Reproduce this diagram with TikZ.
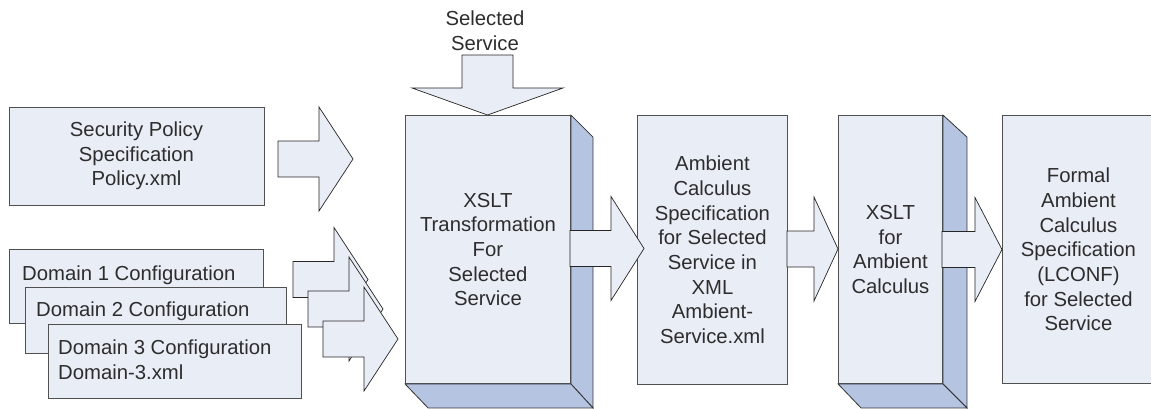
\documentclass[tikz,border=0pt]{standalone}
\usepackage{fontspec}
\setmainfont{Liberation Sans}
\definecolor{boxfill}{RGB}{233,237,246}
\definecolor{sidefill}{RGB}{181,196,225}
\definecolor{boxline}{RGB}{80,80,80}
\definecolor{txt}{RGB}{45,45,45}
\tikzset{
  box/.style={draw=boxline, line width=0.9pt, fill=boxfill, inner sep=0pt, text=txt,
    font=\fontsize{20.3}{24.7}\selectfont, align=center},
  side/.style={draw=black!80, line width=0.8pt, fill=sidefill},
  barrow/.style={draw=black!85, line width=0.7pt, fill=boxfill, line join=miter},
  label/.style={inner sep=0pt, text=txt, font=\fontsize{20.3}{24.7}\selectfont, anchor=base west}
}
% #1 shaft left x, #2 centre y, #3 head base x, #4 tip x
\newcommand{\blockarrow}[4]{%
  \draw[barrow] (#1,#2-18) -- (#3,#2-18) -- (#3,#2-52) -- (#4,#2) -- (#3,#2+52) -- (#3,#2+18) -- (#1,#2+18) -- cycle;}
\begin{document}
\begin{tikzpicture}[x=1pt,y=-1pt]
\path[use as bounding box] (0,0) rectangle (1151,408);
\clip (0,0) rectangle (1151,408);

% Security policy
\node[box, minimum width=255pt, minimum height=98pt] (policy) at (136.5,156)
  {Security Policy\\Specification\\Policy.xml};
\blockarrow{278}{159}{319}{353}

% Domain boxes
\node[box, minimum width=254pt, minimum height=74pt, anchor=north west] (d1) at (9,249) {};
\node[label] (d1t) at (22,280) {Domain 1 Configuration};
\node[box, minimum width=261pt, minimum height=66pt, anchor=north west] (d2) at (25,287) {};
\node[label] (d2t) at (36,316) {Domain 2 Configuration};
\node[box, minimum width=253pt, minimum height=74pt, anchor=north west] (d3) at (48,324) {};
\node[label] (d3t) at (58,354) {Domain 3 Configuration};
\node[label] (d3u) at (58,379) {Domain-3.xml};

\blockarrow{293}{279.5}{334}{368}
\blockarrow{308}{309}{349}{383}
\blockarrow{323}{339}{364}{398}

% Selected service
\node[inner sep=0pt, text=txt, font=\fontsize{20.3}{24.7}\selectfont, align=center] (sel) at (485,31) {Selected\\Service};
\draw[barrow] (462,55) -- (513,55) -- (513,88) -- (563,88) -- (487.5,115) -- (412,88) -- (462,88) -- cycle;

% XSLT transformation (3D box)
\node[box, minimum width=165pt, minimum height=268pt, anchor=north west] (x1) at (405,115)
  {XSLT\\Transformation\\For\\Selected\\Service};
\draw[side] (x1.north east) -- ++(22,22) -- ([shift={(22,24)}]x1.south east) -- (x1.south east) -- cycle;
\draw[side] (x1.south west) -- (x1.south east) -- ++(22,24) -- ([shift={(23,24)}]x1.south west) -- cycle;

% Ambient calculus specification
\node[box, minimum width=150pt, minimum height=269pt, anchor=north west] (amb) at (637,115)
  {Ambient\\Calculus\\Specification\\for Selected\\Service in\\XML\\Ambient-\\Service.xml};
\blockarrow{570}{248.5}{611}{644}

% XSLT for ambient calculus (3D box)
\node[box, minimum width=104pt, minimum height=268pt, anchor=north west] (x2) at (838,115)
  {XSLT\\for\\Ambient\\Calculus};
\draw[side] (x2.north east) -- ++(24,22) -- ([shift={(24,24)}]x2.south east) -- (x2.south east) -- cycle;
\draw[side] (x2.south west) -- (x2.south east) -- ++(24,24) -- ([shift={(23,24)}]x2.south west) -- cycle;
\blockarrow{787}{249}{814}{838}

% Formal specification
\node[box, minimum width=152pt, minimum height=268pt, anchor=north west] (formal) at (1002,115)
  {Formal\\Ambient\\Calculus\\Specification\\(LCONF)\\for Selected\\Service};
\blockarrow{942}{249.5}{975}{1002}
\end{tikzpicture}
\end{document}
